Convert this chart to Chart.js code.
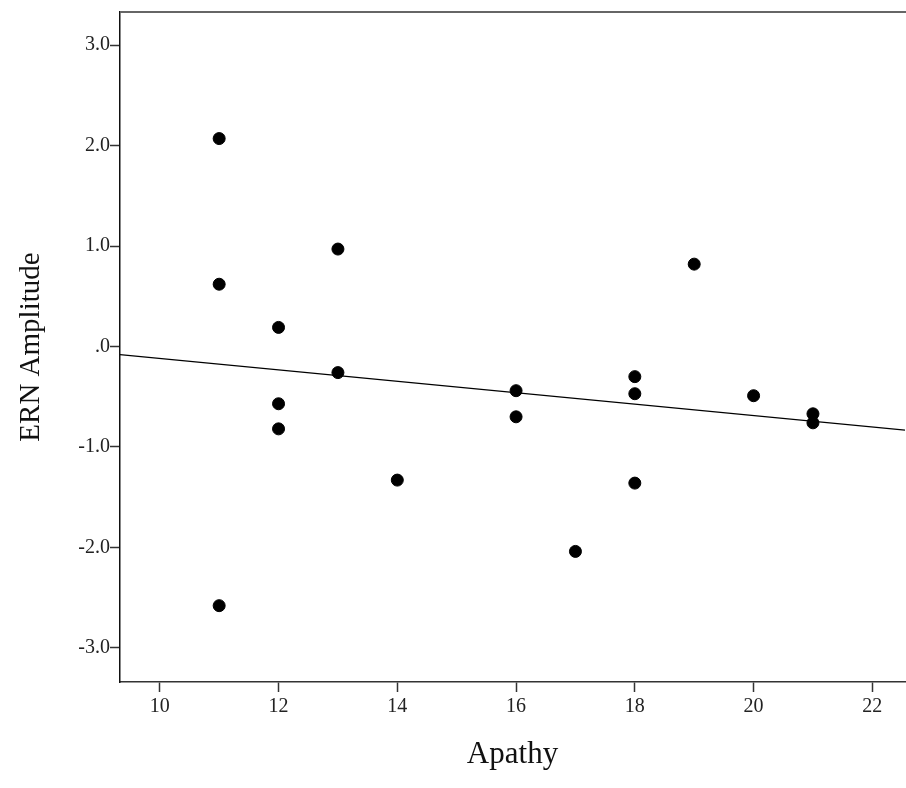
<!DOCTYPE html>
<html>
<head>
<meta charset="utf-8">
<title>ERN Amplitude vs Apathy</title>
<script src="https://cdn.jsdelivr.net/npm/chart.js@4/dist/chart.umd.min.js"></script>
<style>
  html, body { margin: 0; padding: 0; background: #fff; overflow: hidden; }
  /* canvas is a little wider than the window: the plot is cut at the right edge */
  #wrap { width: 906px; height: 788px; overflow: hidden; }
</style>
</head>
<body>
<div id="wrap"><canvas id="scatterChart" width="912" height="788"></canvas></div>
<script>
// values
const apathy = [11, 11, 11, 12, 12, 12, 13, 13, 14, 16, 16, 17, 18, 18, 18, 19, 20, 21, 21];
const ernAmplitude = [2.07, 0.62, -2.58, 0.19, -0.57, -0.82, 0.97, -0.26, -1.33, -0.44, -0.70, -2.04, -0.30, -0.47, -1.36, 0.82, -0.49, -0.67, -0.76];
const xTicks = [10, 12, 14, 16, 18, 20, 22];
const yTicks = [-3, -2, -1, 0, 1, 2, 3];
const xRange = [9.33, 22.55];
const yRange = [-3.34, 3.33];

// least squares fit line
function fitLine(xs, ys) {
  const n = xs.length;
  const mx = xs.reduce((a, b) => a + b, 0) / n;
  const my = ys.reduce((a, b) => a + b, 0) / n;
  let sxy = 0, sxx = 0;
  for (let i = 0; i < n; i++) {
    sxy += (xs[i] - mx) * (ys[i] - my);
    sxx += (xs[i] - mx) * (xs[i] - mx);
  }
  const b = sxy / sxx;
  return x => my + b * (x - mx);
}
const fit = fitLine(apathy, ernAmplitude);

const points = apathy.map((x, i) => ({ x: x, y: ernAmplitude[i] }));
const fitPoints = xRange.map(x => ({ x: x, y: fit(x) }));

const serif = 'Liberation Serif, "Times New Roman", serif';

// top frame line (no right border, picture is cut there)
const topFrame = {
  id: 'topFrame',
  afterDraw(chart) {
    const { ctx, chartArea } = chart;
    ctx.save();
    ctx.strokeStyle = '#666';
    ctx.lineWidth = 2;
    ctx.beginPath();
    ctx.moveTo(chartArea.left, chartArea.top);
    ctx.lineTo(chart.width, chartArea.top);
    ctx.stroke();
    ctx.restore();
  }
};

const ctx = document.getElementById('scatterChart');
new Chart(ctx, {
  type: 'scatter',
  data: {
    datasets: [
      {
        label: 'ERN Amplitude',
        data: points,
        backgroundColor: '#000',
        borderColor: '#000',
        pointRadius: 6,
        pointHoverRadius: 6
      },
      {
        label: 'Fit',
        data: fitPoints,
        showLine: true,
        borderColor: '#000',
        borderWidth: 1.3,
        pointRadius: 0,
        fill: false
      }
    ]
  },
  options: {
    responsive: false,
    animation: false,
    layout: { padding: { top: 10, right: 0, left: 0, bottom: 0 } },
    plugins: {
      legend: { display: false },
      tooltip: { enabled: false }
    },
    scales: {
      x: {
        type: 'linear',
        min: xRange[0],
        max: xRange[1],
        afterBuildTicks: scale => { scale.ticks = xTicks.map(v => ({ value: v })); },
        afterFit: scale => { scale.height = 106; },
        grid: { display: true, drawOnChartArea: false, drawTicks: true, tickLength: 10, tickColor: '#333', tickWidth: 1.5 },
        border: { display: true, color: '#333', width: 1.5 },
        ticks: {
          color: '#222',
          padding: 3,
          maxRotation: 0,
          font: { family: serif, size: 20 },
          callback: v => String(v)
        },
        title: {
          display: true,
          text: 'Apathy',
          color: '#111',
          font: { family: serif, size: 31 },
          padding: { top: 0, bottom: 15 }
        }
      },
      y: {
        type: 'linear',
        min: yRange[0],
        max: yRange[1],
        afterBuildTicks: scale => { scale.ticks = yTicks.map(v => ({ value: v })); },
        afterFit: scale => { scale.width = 120; },
        grid: { display: true, drawOnChartArea: false, drawTicks: true, tickLength: 10, tickColor: '#333', tickWidth: 1.5 },
        border: { display: true, color: '#111', width: 1.5 },
        ticks: {
          color: '#222',
          padding: 0,
          font: { family: serif, size: 20 },
          callback: v => v === 0 ? '.0' : v.toFixed(1)
        },
        title: {
          display: true,
          text: 'ERN Amplitude',
          color: '#111',
          font: { family: serif, size: 29 },
          padding: { top: 14, bottom: 0 }
        }
      }
    }
  },
  plugins: [topFrame]
});
</script>
</body>
</html>
